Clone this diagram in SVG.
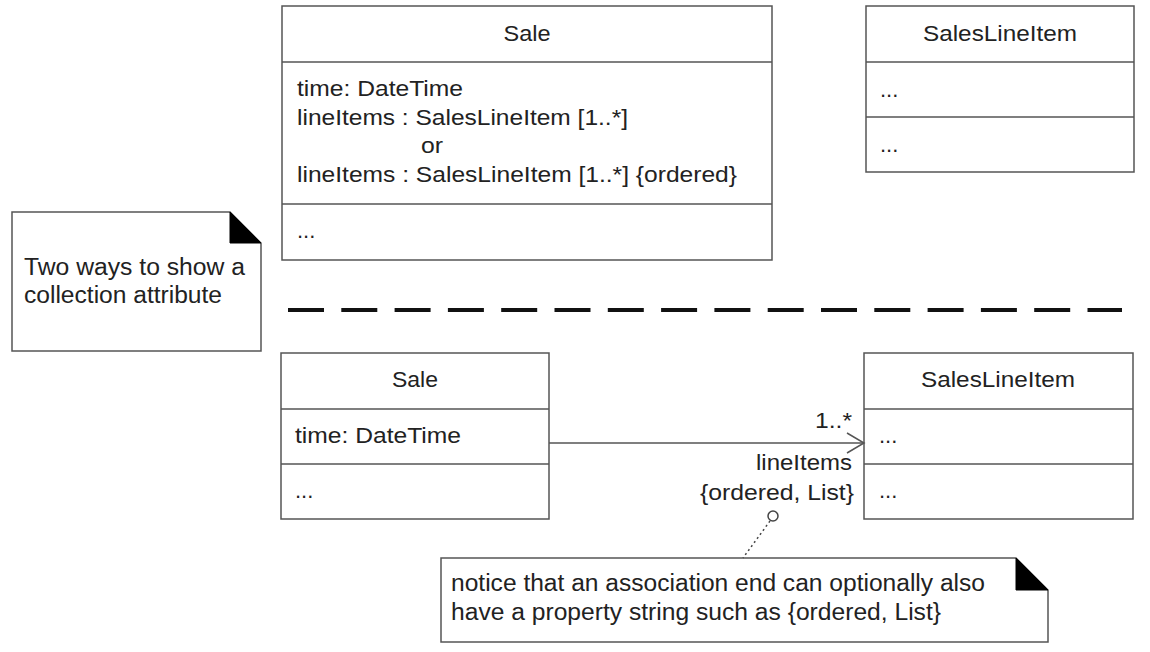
<svg xmlns="http://www.w3.org/2000/svg" width="1150" height="652" viewBox="0 0 1150 652">
<style>
.box{fill:#fff;stroke:#555;stroke-width:1.5}
.ln{stroke:#555;stroke-width:1.5;fill:none}
text{font-family:"Liberation Sans",Arial,sans-serif;font-size:22px;fill:#222}
.note{font-size:23px}
.c{text-anchor:middle}
.r{text-anchor:end}
</style>
<rect width="1150" height="652" fill="#fff"/>
<g id="sale-top">
<rect class="box" x="282" y="6" width="490" height="254"/>
<line class="ln" x1="282" y1="62" x2="772" y2="62"/>
<line class="ln" x1="282" y1="204" x2="772" y2="204"/>
<text x="527" y="41" class="c" textLength="47" lengthAdjust="spacingAndGlyphs">Sale</text>
<text x="297" y="96" textLength="166" lengthAdjust="spacingAndGlyphs">time: DateTime</text>
<text x="297" y="125" textLength="331" lengthAdjust="spacingAndGlyphs">lineItems : SalesLineItem [1..*]</text>
<text x="421" y="153" textLength="22" lengthAdjust="spacingAndGlyphs">or</text>
<text x="297" y="182" textLength="440" lengthAdjust="spacingAndGlyphs">lineItems : SalesLineItem [1..*] {ordered}</text>
<text x="297" y="238">...</text>
</g>
<g id="saleslineitem-top">
<rect class="box" x="866" y="6" width="268" height="166"/>
<line class="ln" x1="866" y1="62" x2="1134" y2="62"/>
<line class="ln" x1="866" y1="117" x2="1134" y2="117"/>
<text x="1000" y="41" class="c" textLength="154" lengthAdjust="spacingAndGlyphs">SalesLineItem</text>
<text x="880" y="97">...</text>
<text x="880" y="152">...</text>
</g>
<g id="note-two-ways">
<path class="box" d="M12,212 H230 L261,243 V351 H12 Z"/>
<path d="M230,212 L261,243 H230 Z" fill="#000" stroke="#000" stroke-width="1"/>
<text x="24" y="275" class="note" textLength="221" lengthAdjust="spacingAndGlyphs">Two ways to show a</text>
<text x="24" y="303" class="note" textLength="198" lengthAdjust="spacingAndGlyphs">collection attribute</text>
</g>
<g id="separator">
<line x1="288" y1="310" x2="1122" y2="310" stroke="#111" stroke-width="4" stroke-dasharray="36 17.3"/>
</g>
<g id="sale-bottom">
<rect class="box" x="281" y="353" width="268" height="166"/>
<line class="ln" x1="281" y1="409" x2="549" y2="409"/>
<line class="ln" x1="281" y1="464" x2="549" y2="464"/>
<text x="415" y="387" class="c" textLength="46" lengthAdjust="spacingAndGlyphs">Sale</text>
<text x="295" y="443" textLength="166" lengthAdjust="spacingAndGlyphs">time: DateTime</text>
<text x="295" y="498">...</text>
</g>
<g id="saleslineitem-bottom">
<rect class="box" x="864" y="353" width="269" height="166"/>
<line class="ln" x1="864" y1="409" x2="1133" y2="409"/>
<line class="ln" x1="864" y1="464" x2="1133" y2="464"/>
<text x="998" y="387" class="c" textLength="154" lengthAdjust="spacingAndGlyphs">SalesLineItem</text>
<text x="879" y="443">...</text>
<text x="879" y="498">...</text>
</g>
<g id="note-property">
<path class="box" d="M441,558 H1016 L1048,590 V642 H441 Z"/>
<path d="M1016,558 L1048,590 H1016 Z" fill="#000" stroke="#000" stroke-width="1"/>
<text x="451" y="591" class="note" textLength="534" lengthAdjust="spacingAndGlyphs">notice that an association end can optionally also</text>
<text x="451" y="620" class="note" textLength="490" lengthAdjust="spacingAndGlyphs">have a property string such as {ordered, List}</text>
</g>
<g id="connectors">
<line class="ln" x1="549" y1="443" x2="864" y2="443"/>
<polyline class="ln" points="847,433 864,443 847,453"/>
<text x="852" y="428" class="r" textLength="37" lengthAdjust="spacingAndGlyphs">1..*</text>
<text x="852" y="470" class="r" textLength="96" lengthAdjust="spacingAndGlyphs">lineItems</text>
<text x="854" y="500" class="r" textLength="154" lengthAdjust="spacingAndGlyphs">{ordered, List}</text>
<circle cx="773" cy="516" r="5" fill="#fff" stroke="#444" stroke-width="1.5"/>
<line x1="770" y1="521" x2="743" y2="558" stroke="#444" stroke-width="1.5" stroke-dasharray="2 3"/>
</g>
</svg>
